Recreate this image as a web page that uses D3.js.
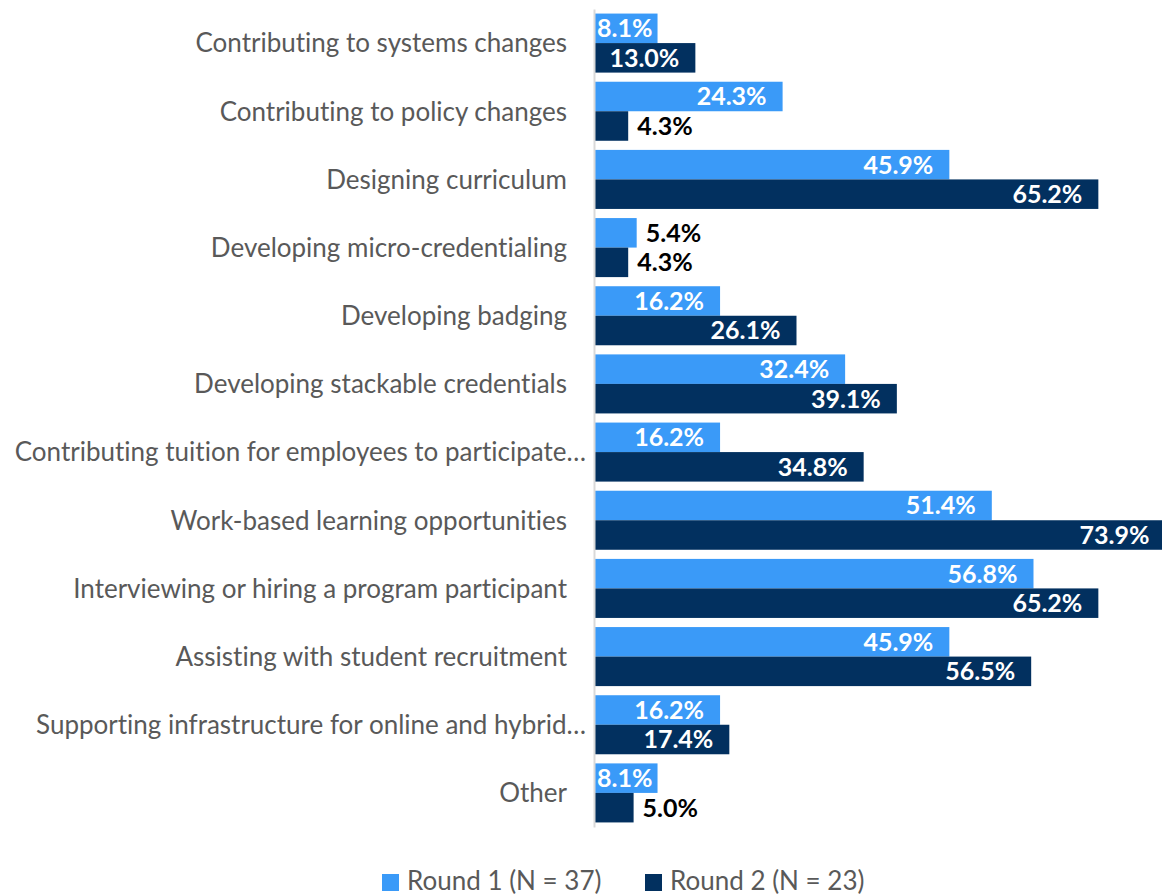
<!DOCTYPE html>
<html>
<head>
<meta charset="utf-8">
<script src="https://cdn.jsdelivr.net/npm/d3@7"></script>
<style>
  html, body { margin: 0; padding: 0; background: #ffffff; }
  svg { display: block; font-variant-ligatures: none; }
</style>
</head>
<body>
<script>
// Engagement activities reported by partners, two survey rounds
const categories = [
  "Contributing to systems changes",
  "Contributing to policy changes",
  "Designing curriculum",
  "Developing micro-credentialing",
  "Developing badging",
  "Developing stackable credentials",
  "Contributing tuition for employees to participate…",
  "Work-based learning opportunities",
  "Interviewing or hiring a program participant",
  "Assisting with student recruitment",
  "Supporting infrastructure for online and hybrid…",
  "Other"
];
const round1 = [8.1, 24.3, 45.9, 5.4, 16.2, 32.4, 16.2, 51.4, 56.8, 45.9, 16.2, 8.1];
const round2 = [13.0, 4.3, 65.2, 4.3, 26.1, 39.1, 34.8, 73.9, 65.2, 56.5, 17.4, 5.0];
const seriesNames = ["Round 1 (N = 37)", "Round 2 (N = 23)"];
const seriesColors = ["#3A9AF8", "#02305F"];

const W = 1162, H = 895;
const axisX = 594;
const fontFamily = "Lato, 'Open Sans', sans-serif";

const svg = d3.select("body").append("svg")
  .attr("width", W).attr("height", H);

const y = d3.scaleBand()
  .domain(categories)
  .range([9, 827])
  .paddingInner(0.134)
  .paddingOuter(0.067);

const sub = d3.scaleBand()
  .domain([0, 1])
  .range([0, y.bandwidth()]);

const x = d3.scaleLinear()
  .domain([0, 80])
  .range([axisX + 1, axisX + 1 + 80 * 7.72]);

const rows = categories.map((c, i) => ({
  cat: c,
  values: [round1[i], round2[i]]
}));

// Bars
const groups = svg.append("g").selectAll("g")
  .data(rows)
  .join("g")
  .attr("transform", d => `translate(0,${y(d.cat)})`);

groups.selectAll("rect")
  .data(d => d.values.map((v, k) => ({ v, k })))
  .join("rect")
  .attr("x", x(0))
  .attr("y", d => sub(d.k))
  .attr("width", d => x(d.v) - x(0))
  .attr("height", sub.bandwidth())
  .attr("fill", d => seriesColors[d.k]);

// Value labels: inside end for wide bars, outside end for short ones
groups.selectAll("text")
  .data(d => d.values.map((v, k) => ({ v, k })))
  .join("text")
  .attr("y", d => sub(d.k) + sub.bandwidth() / 2)
  .attr("dy", "0.36em")
  .attr("font-family", fontFamily)
  .attr("font-weight", 700)
  .attr("font-size", 25)
  .attr("fill", d => d.v < 6 ? "#000000" : "#ffffff")
  .text(d => d.v.toFixed(1) + "%")
  .each(function (d) {
    const t = d3.select(this);
    if (d.v < 6) {
      t.attr("text-anchor", "start").attr("x", x(d.v) + 9);
    } else {
      const w = this.getComputedTextLength();
      const end = Math.max(x(d.v) - 16, x(0) + 2 + w);
      t.attr("text-anchor", "end").attr("x", end);
    }
  });

// Category axis
const axis = svg.append("g")
  .attr("transform", `translate(${axisX},0)`)
  .call(d3.axisLeft(y).tickSize(0).tickPadding(27));

axis.select(".domain")
  .attr("stroke", "#D9D9D9")
  .attr("stroke-width", 2);

axis.selectAll(".tick text")
  .attr("font-family", fontFamily)
  .attr("font-size", 26)
  .attr("fill", "#595959")
  .attr("dy", "0.36em")
  .attr("x", d => d.endsWith("…") ? -8 : -27);

// Legend
const legendX = [382, 645];
const legend = svg.append("g").selectAll("g")
  .data(seriesNames)
  .join("g")
  .attr("transform", (d, i) => `translate(${legendX[i]},874)`);

legend.append("rect")
  .attr("width", 17).attr("height", 17)
  .attr("fill", (d, i) => seriesColors[i]);

legend.append("text")
  .attr("x", 25)
  .attr("y", 16)
  .attr("font-family", fontFamily)
  .attr("font-size", 26)
  .attr("fill", "#595959")
  .text(d => d);
</script>
</body>
</html>
